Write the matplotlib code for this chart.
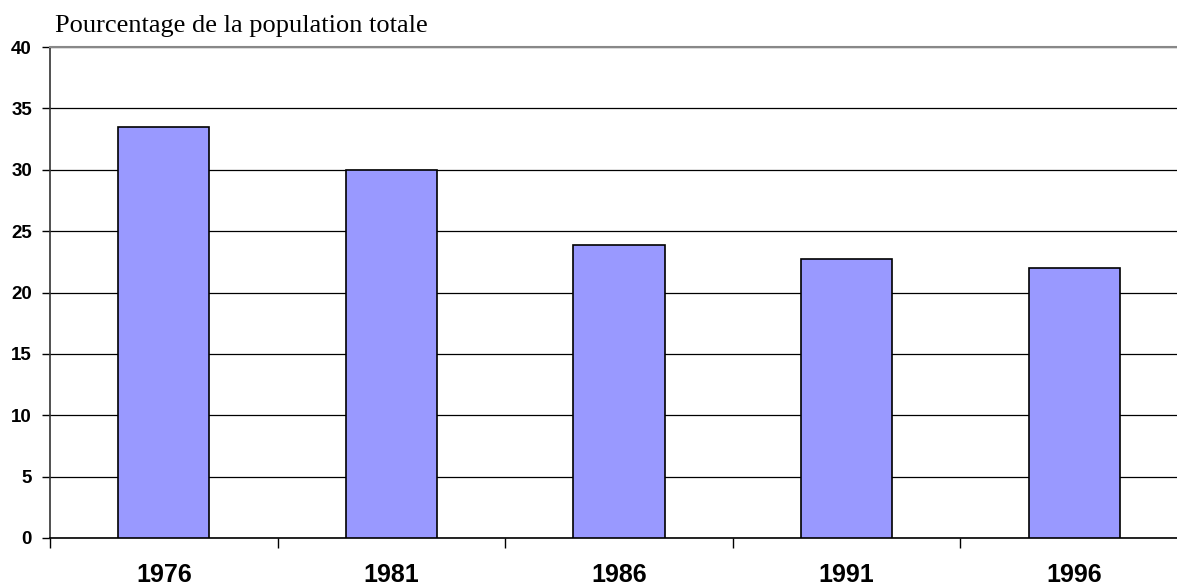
import matplotlib
matplotlib.use("Agg")
import matplotlib.pyplot as plt
import numpy as np

# Share of total population, by census year
years = ['1976', '1981', '1986', '1991', '1996']
pct = [33.5, 30.0, 23.9, 22.7, 22.0]
yticks = [0, 5, 10, 15, 20, 25, 30, 35, 40]

W, H = 1177, 585
fig = plt.figure(figsize=(W / 100, H / 100), dpi=100)
ax = fig.add_axes([50 / W, 47 / H, 1138 / W, 491 / H])

x = np.arange(len(years))
ax.bar(x, pct, width=0.4, color='#9999FF', edgecolor='black', linewidth=1.2, zorder=3)

ax.set_xlim(-0.5, len(years) - 0.5)
ax.set_ylim(0, 40)
ax.set_yticks(yticks)
ax.set_yticklabels([str(v) for v in yticks], fontsize=13.5, fontweight='bold',
                   family='Liberation Sans')
ax.yaxis.grid(True, color='black', linewidth=0.9, zorder=0)
ax.set_axisbelow(True)

ax.set_xticks(x)
ax.set_xticklabels(years, fontsize=18, fontweight='bold', family='Liberation Sans')
ax.tick_params(axis='x', which='major', length=0, pad=18)
ax.set_xticks(np.arange(-0.5, len(years)), minor=True)
ax.tick_params(axis='x', which='minor', length=7, width=1, direction='out')
ax.tick_params(axis='y', length=6, width=1, direction='out', pad=7)

ax.spines['right'].set_visible(False)
ax.spines['top'].set_color('#888888')
ax.spines['top'].set_linewidth(1.5)
ax.spines['left'].set_color('#333333')
ax.spines['left'].set_linewidth(1.2)
ax.spines['bottom'].set_linewidth(1.2)

fig.text(55 / W, 1 - 32 / H, 'Pourcentage de la population totale',
         family='Liberation Serif', fontsize=19, ha='left', va='baseline')

fig.savefig('out.png', dpi=100)
